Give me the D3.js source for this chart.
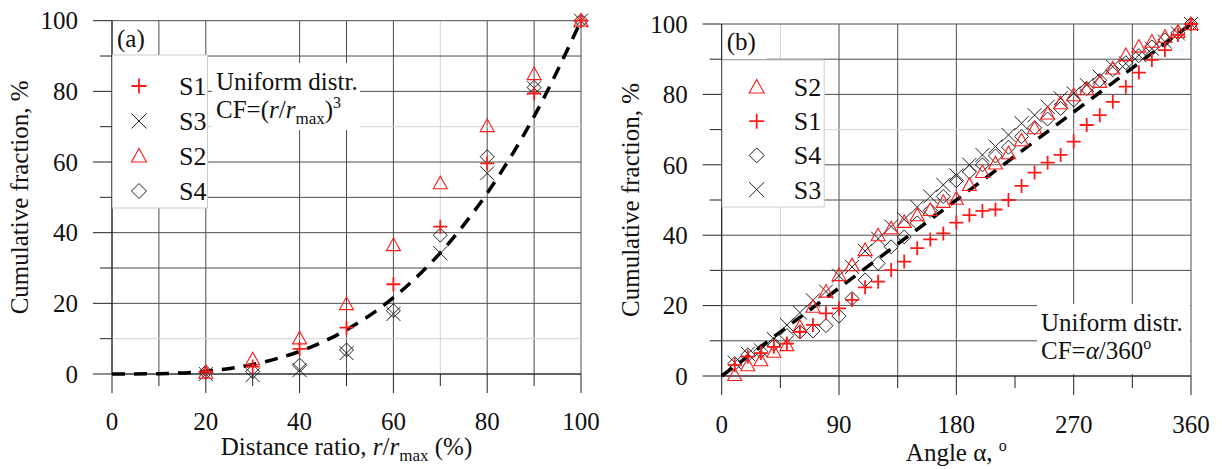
<!DOCTYPE html>
<html>
<head>
<meta charset="utf-8">
<script src="https://cdnjs.cloudflare.com/ajax/libs/d3/7.8.5/d3.min.js"></script>
<style>
  body { margin: 0; background: #fff; }
</style>
</head>
<body>
<div class="chart"></div>
<script>
// ------------------------------------------------------------------------------------------------------------------
// Data (a) : cumulative fraction vs distance ratio
var distRatio = [20, 30, 40, 50, 60, 70, 80, 90, 100];
var distS1 = [0.7, 2.1, 7.1, 13.1, 25.4, 41.7, 59.6, 79.4, 100];
var distS3 = [0, -0.3, 1.1, 5.9, 17.0, 34.2, 56.8, 80.9, 100];
var distS2 = [0.4, 4.2, 10.1, 19.8, 36.5, 54.0, 70.2, 84.9, 100];
var distS4 = [0.5, 0.7, 2.5, 6.8, 17.9, 39.3, 61.5, 81.1, 100];
// uniform distribution curve
var uniformR = [0, 10, 20, 30, 40, 50, 60, 70, 80, 90, 100];
var uniformCFr = [0, 0.1, 0.8, 2.7, 6.4, 12.5, 21.6, 34.3, 51.2, 72.9, 100];

// Data (b) : cumulative fraction vs angle
var angles = [10, 20, 30, 40, 50, 60, 70, 80, 90, 100, 110, 120, 130, 140, 150, 160, 170, 180,
              190, 200, 210, 220, 230, 240, 250, 260, 270, 280, 290, 300, 310, 320, 330, 340, 350, 360];
var angS1 = [3.1, 5.5, 6.5, 8.3, 9.2, 12.6, 14.5, 17.8, 19.2, 21.6, 25.2, 26.8, 30.1, 32.5, 36.3, 38.8, 40.5, 43.6,
             45.7, 46.9, 47.3, 50.0, 54.0, 57.8, 60.6, 62.8, 66.6, 71.3, 74.1, 77.9, 82.2, 86.2, 89.8, 92.6, 96.9, 100];
var angS2 = [0.3, 3.1, 4.5, 6.9, 8.8, 14.0, 19.7, 24.0, 28.7, 31.5, 35.8, 40.0, 42.0, 43.8, 45.7, 47.2, 49.5, 50.4,
             54.3, 58.0, 60.4, 63.3, 67.0, 70.4, 74.6, 77.5, 79.8, 81.5, 83.6, 87.4, 91.2, 93.6, 95.0, 96.4, 97.8, 100];
var angS4 = [3.5, 6.0, 7.0, 9.0, 11.5, 12.5, 12.8, 14.3, 17.0, 22.0, 27.3, 32.0, 36.7, 39.5, 43.5, 47.0, 51.0, 55.5,
             58.0, 60.0, 62.5, 65.0, 68.0, 70.5, 73.0, 76.0, 78.4, 81.7, 84.0, 87.0, 89.0, 91.0, 93.5, 95.5, 97.5, 100];
var angS3 = [3.8, 6.3, 7.3, 10.5, 14.5, 18.0, 21.5, 24.0, 28.5, 31.0, 35.5, 39.0, 42.5, 44.5, 48.0, 51.0, 54.3, 57.0,
             60.0, 62.8, 65.2, 68.5, 71.8, 74.1, 76.5, 78.9, 80.3, 82.7, 85.0, 87.9, 88.8, 91.2, 93.0, 95.0, 97.3, 100];
var uniformA = [0, 360];
var uniformCFa = [0, 100];

// ticks
var distTicks = [0, 20, 40, 60, 80, 100];
var angleTicks = [0, 90, 180, 270, 360];
var cfTicks = [0, 20, 40, 60, 80, 100];

// ------------------------------------------------------------------------------------------------------------------
var width = 1222, height = 469;
var red = "#ff1a1a", black = "#222";
var gridDark = "#4d4d4d", gridLight = "#d4d4d4";
var serif = "'Liberation Serif', 'DejaVu Serif', 'Times New Roman', serif";

var svg = d3.select(".chart").append("svg")
  .attr("width", width)
  .attr("height", height)
  .attr("font-family", serif)
  .style("font-family", serif);
svg.append("rect").attr("width", width).attr("height", height).attr("fill", "#fff");

// marker shapes, s = half size
function markerPath(type, s) {
  if (type == "plus") return "M" + (-s) + ",0H" + s + "M0," + (-s) + "V" + s;
  if (type == "cross") return "M" + (-s) + "," + (-s) + "L" + s + "," + s + "M" + (-s) + "," + s + "L" + s + "," + (-s);
  if (type == "tri") return "M0," + (-s) + "L" + s + "," + (s * 0.8) + "L" + (-s) + "," + (s * 0.8) + "Z";
  if (type == "diam") return "M0," + (-s) + "L" + s + ",0L0," + s + "L" + (-s) + ",0Z";
}
var styles = {
  plus:  { color: red,   w: 1.8 },
  cross: { color: black, w: 1 },
  tri:   { color: red,   w: 1.1 },
  diam:  { color: black, w: 1 }
};

function label(sel, size) {
  return sel.attr("font-family", serif).attr("font-size", size).attr("fill", "#111");
}

function drawPanel(p) {
  var x = p.x, y = p.y;
  var g = svg.append("g");
  var x0 = x.range()[0], x1 = x.range()[1], y0 = y.range()[0], y1 = y.range()[1];

  // grid
  p.xGrid.forEach(function(v) {
    if (p.xGridSkip.indexOf(v) >= 0) return;
    g.append("line").attr("x1", x(v)).attr("x2", x(v)).attr("y1", y0).attr("y2", y1)
      .attr("stroke", p.xGridLight.indexOf(v) >= 0 ? gridLight : gridDark).attr("stroke-width", 1);
  });
  p.yGrid.forEach(function(v) {
    g.append("line").attr("x1", x0).attr("x2", x1).attr("y1", y(v)).attr("y2", y(v))
      .attr("stroke", p.yGridLight.indexOf(v) >= 0 ? gridLight : gridDark).attr("stroke-width", 1);
  });

  // ticks
  p.xGrid.forEach(function(v) {
    var major = p.xTicks.indexOf(v) >= 0;
    g.append("line").attr("x1", x(v)).attr("x2", x(v)).attr("y1", y0).attr("y2", y0 + (major ? 19 : 12))
      .attr("stroke", "#222");
  });
  p.yGrid.forEach(function(v) {
    var major = cfTicks.indexOf(v) >= 0;
    g.append("line").attr("x1", x0 - (major ? 19 : 12)).attr("x2", x0).attr("y1", y(v)).attr("y2", y(v))
      .attr("stroke", "#222");
  });
  g.append("line").attr("x1", x0).attr("x2", x0).attr("y1", y0).attr("y2", y1).attr("stroke", "#222");
  g.append("line").attr("x1", x0).attr("x2", x1).attr("y1", y0).attr("y2", y0).attr("stroke", "#222");

  // tick labels
  label(g.selectAll(".xt").data(p.xTicks).enter().append("text"), 25)
    .attr("x", function(d) { return x(d); }).attr("y", p.xLabelY)
    .attr("text-anchor", "middle").text(function(d) { return d; });
  label(g.selectAll(".yt").data(cfTicks).enter().append("text"), 25)
    .attr("x", x0 - 34).attr("y", function(d) { return y(d); }).attr("dy", "0.35em")
    .attr("text-anchor", "end").text(function(d) { return d; });

  // axis titles
  label(g.append("text"), 25).attr("transform", "translate(" + p.yTitleX + "," + ((y0 + y1) / 2) + ") rotate(-90)")
    .attr("text-anchor", "middle").text("Cumulative fraction, %");
  p.xTitle(label(g.append("text"), 25).attr("x", (x0 + x1) / 2).attr("y", p.xTitleY)
    .attr("text-anchor", "middle"));

  // uniform distribution dashed line
  var line = d3.line().x(function(d) { return x(d[0]); }).y(function(d) { return y(d[1]); })
    .curve(d3.curveMonotoneX);
  g.append("path").datum(d3.zip(p.curveX, p.curveY)).attr("d", line)
    .attr("fill", "none").attr("stroke", "#000").attr("stroke-width", 3.5)
    .attr("stroke-dasharray", "13,9");

  // markers
  p.series.forEach(function(s) {
    var st = styles[s.type];
    g.selectAll(null).data(d3.zip(p.xs, s.values)).enter().append("path")
      .attr("transform", function(d) { return "translate(" + x(d[0]) + "," + y(d[1]) + ")"; })
      .attr("d", markerPath(s.type, 7))
      .attr("fill", "none").attr("stroke", st.color).attr("stroke-width", st.w);
  });

  // panel label
  g.append("rect").attr("x", x0 + 1).attr("y", y1 + 1).attr("width", 44).attr("height", 34).attr("fill", "#fff");
  label(g.append("text"), 25).attr("x", x0 + 5).attr("y", p.tagY).text(p.tag);

  // legend
  var lg = p.legend;
  g.append("rect").attr("x", x0 + 0.5).attr("y", lg.top).attr("width", lg.w).attr("height", lg.h)
    .attr("fill", "#fff").attr("stroke", "#ccc").attr("stroke-width", 1);
  p.legendOrder.forEach(function(s, i) {
    var cy = lg.top + lg.first + i * lg.step;
    var st = styles[s.type];
    g.append("path").attr("transform", "translate(" + (x0 + lg.mx) + "," + cy + ")")
      .attr("d", markerPath(s.type, 7.5))
      .attr("fill", "none").attr("stroke", st.color).attr("stroke-width", st.w);
    label(g.append("text"), 26).attr("x", x0 + lg.tx).attr("y", cy + 9).text(s.name);
  });

  // uniform distr. note
  var nb = p.note;
  g.append("rect").attr("x", nb.x).attr("y", nb.y).attr("width", nb.w).attr("height", nb.h).attr("fill", "#fff");
  label(g.append("text"), 25).attr("x", nb.x + 4).attr("y", nb.y + 27).text("Uniform distr.");
  nb.formula(label(g.append("text"), 25).attr("x", nb.x + 4).attr("y", nb.y + 55));
}

// ------------------------------------------------------------------------------------------------------------------
var s1a = { name: "S1", type: "plus",  values: distS1 },
    s3a = { name: "S3", type: "cross", values: distS3 },
    s2a = { name: "S2", type: "tri",   values: distS2 },
    s4a = { name: "S4", type: "diam",  values: distS4 };

drawPanel({
  x: d3.scaleLinear().domain([0, 100]).range([112, 581]),
  y: d3.scaleLinear().domain([0, 100]).range([374, 20.7]),
  xs: distRatio,
  xTicks: distTicks,
  xGrid: d3.range(0, 101, 10),
  xGridSkip: [30],
  xGridLight: [70],
  yGrid: d3.range(0, 101, 10),
  yGridLight: [10, 70],
  xLabelY: 430,
  xTitleY: 455,
  yTitleX: 28,
  xTitle: function(t) {
    t.append("tspan").text("Distance ratio, ");
    t.append("tspan").attr("font-style", "italic").text("r");
    t.append("tspan").text("/");
    t.append("tspan").attr("font-style", "italic").text("r");
    t.append("tspan").attr("font-size", 17).attr("dy", 6).text("max");
    t.append("tspan").attr("dy", -6).text(" (%)");
  },
  curveX: uniformR,
  curveY: uniformCFr,
  series: [s4a, s3a, s2a, s1a],
  legendOrder: [s1a, s3a, s2a, s4a],
  legend: { top: 55, w: 95, h: 153, first: 31, step: 35, mx: 27, tx: 67 },
  tag: "(a)",
  tagY: 47,
  note: {
    x: 212, y: 63, w: 148, h: 67,
    formula: function(t) {
      t.append("tspan").text("CF=(");
      t.append("tspan").attr("font-style", "italic").text("r");
      t.append("tspan").text("/");
      t.append("tspan").attr("font-style", "italic").text("r");
      t.append("tspan").attr("font-size", 17).attr("dy", 6).text("max");
      t.append("tspan").attr("dy", -6).text(")");
      t.append("tspan").attr("font-size", 16).attr("dy", -10).text("3");
    }
  }
});

var s2b = { name: "S2", type: "tri",   values: angS2 },
    s1b = { name: "S1", type: "plus",  values: angS1 },
    s4b = { name: "S4", type: "diam",  values: angS4 },
    s3b = { name: "S3", type: "cross", values: angS3 };

drawPanel({
  x: d3.scaleLinear().domain([0, 360]).range([721.7, 1191]),
  y: d3.scaleLinear().domain([0, 100]).range([376, 24]),
  xs: angles,
  xTicks: angleTicks,
  xGrid: d3.range(0, 361, 45),
  xGridSkip: [225],
  xGridLight: [45],
  yGrid: d3.range(0, 101, 10),
  yGridLight: [70],
  xLabelY: 433,
  xTitleY: 461,
  yTitleX: 639,
  xTitle: function(t) {
    t.append("tspan").text("Angle \u03b1, ");
    t.append("tspan").attr("font-size", 16).attr("dy", -10).text("o");
  },
  curveX: uniformA,
  curveY: uniformCFa,
  series: [s4b, s3b, s2b, s1b],
  legendOrder: [s2b, s1b, s4b, s3b],
  legend: { top: 60, w: 102, h: 147, first: 27, step: 34.2, mx: 35, tx: 72 },
  tag: "(b)",
  tagY: 50,
  note: {
    x: 1037, y: 304, w: 153, h: 70,
    formula: function(t) {
      t.append("tspan").text("CF=");
      t.append("tspan").attr("font-style", "italic").text("\u03b1");
      t.append("tspan").text("/360");
      t.append("tspan").attr("font-size", 16).attr("dy", -10).text("o");
    }
  }
});
</script>
</body>
</html>
